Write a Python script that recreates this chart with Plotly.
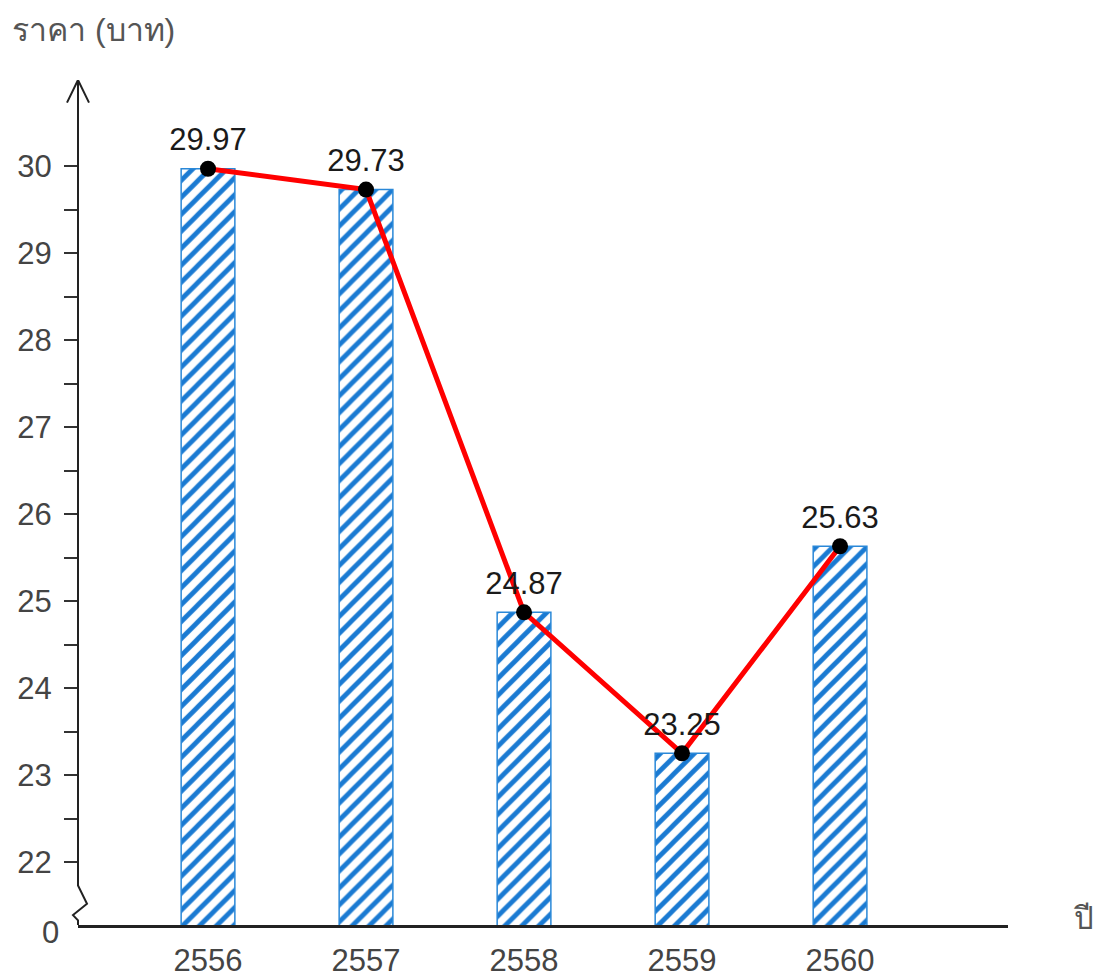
import plotly.graph_objects as go

years = ["2556", "2557", "2558", "2559", "2560"]
prices = [29.97, 29.73, 24.87, 23.25, 25.63]
price_labels = ["29.97", "29.73", "24.87", "23.25", "25.63"]
major_ticks = [22, 23, 24, 25, 26, 27, 28, 29, 30]
major_tick_text = ["22", "23", "24", "25", "26", "27", "28", "29", "30"]
minor_ticks = [22.5, 23.5, 24.5, 25.5, 26.5, 27.5, 28.5, 29.5]

Y_BOTTOM = 21.276   # the broken-axis "0"
Y_TOP = 30.99
xpos = list(range(len(years)))

FONT = "Liberation Sans, Arial, sans-serif"

fig = go.Figure()
fig.add_trace(go.Bar(
    x=xpos, y=prices, width=0.34,
    marker=dict(
        color="white",
        line=dict(color="#2a88d8", width=1.5),
        pattern=dict(shape="/", fgcolor="#1a7ad2", bgcolor="white", fgopacity=1,
                     size=12, solidity=0.4),
    ),
    hoverinfo="skip",
))
fig.add_trace(go.Scatter(
    x=xpos, y=prices, mode="lines+markers+text",
    line=dict(color="#ff0000", width=5),
    marker=dict(color="black", size=16),
    text=price_labels, textposition="top center",
    textfont=dict(size=31, color="#1a1a1a", family=FONT),
    cliponaxis=False,
))

# y axis line with arrow and zig-zag break (paper x, data y)
dx = 1.0 / 930
fig.add_shape(type="path", xref="paper", yref="y",
              path=(f"M 0 {Y_TOP} L 0 21.73 L {9*dx} 21.52 L {-5*dx} 21.39 L 0 21.33 L 0 {Y_BOTTOM}"),
              line=dict(color="#222222", width=2))
fig.add_shape(type="path", xref="paper", yref="y",
              path=f"M {-11*dx} {Y_TOP-0.26} L 0 {Y_TOP} L {11*dx} {Y_TOP-0.26}",
              line=dict(color="#222222", width=2))

fig.add_annotation(xref="paper", yref="y", x=-0.0185, y=Y_BOTTOM, yshift=-7, text="0",
                   showarrow=False, xanchor="right", yanchor="middle",
                   font=dict(size=31, color="#444444", family=FONT))
fig.add_annotation(xref="paper", yref="paper", x=-0.0731, y=1.059, text="ราคา (บาท)",
                   showarrow=False, xanchor="left", yanchor="middle",
                   font=dict(size=32, color="#555555", family=FONT))
fig.add_annotation(xref="paper", yref="paper", x=1.068, y=0.008, text="ปี",
                   showarrow=False, xanchor="left", yanchor="middle",
                   font=dict(size=31, color="#555555", family=FONT))

# page body has an 8px margin: figure is sized/placed to compensate
fig.update_layout(
    width=1093, height=971,
    margin=dict(l=70, r=93, t=72, b=54),
    paper_bgcolor="white", plot_bgcolor="white",
    showlegend=False,
    xaxis=dict(
        range=[-0.8228, 5.063], tickmode="array", tickvals=xpos, ticktext=years,
        showline=True, linecolor="#222222", linewidth=2.5, showgrid=False, zeroline=False,
        ticks="", ticklabelstandoff=6, automargin=False,
        tickfont=dict(size=31, color="#444444", family=FONT),
    ),
    yaxis=dict(
        range=[Y_BOTTOM, Y_TOP], tickmode="array", tickvals=major_ticks, ticktext=major_tick_text,
        showline=False, showgrid=False, zeroline=False, automargin=False,
        ticks="outside", ticklen=13, tickwidth=2, tickcolor="#333333", ticklabelstandoff=6,
        minor=dict(tickmode="array", tickvals=minor_ticks, ticks="outside", ticklen=13,
                   tickwidth=2, tickcolor="#333333", showgrid=False),
        tickfont=dict(size=31, color="#444444", family=FONT),
    ),
)

fig.write_html("out.html")
